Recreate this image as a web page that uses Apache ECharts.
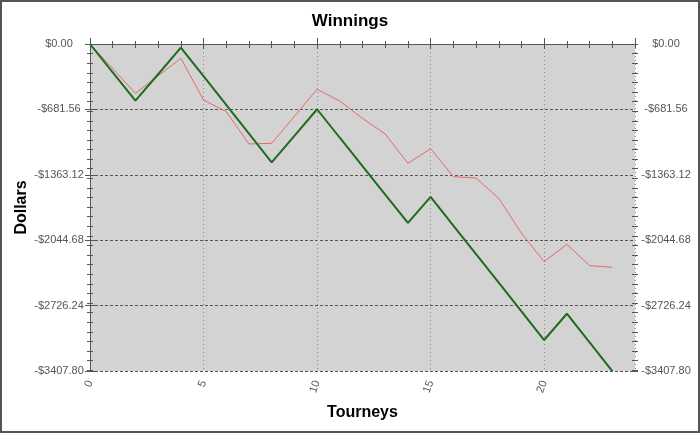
<!DOCTYPE html>
<html>
<head>
<meta charset="utf-8">
<script src="https://cdn.jsdelivr.net/npm/echarts@6/dist/echarts.min.js"></script>
<style>
html,body{margin:0;padding:0;background:#fff;}
#chart{width:700px;height:433px;}
</style>
</head>
<body>
<div id="chart"></div>
<script>
// Data
var tourneys = [0,1,2,3,4,5,6,7,8,9,10,11,12,13,14,15,16,17,18,19,20,21,22,23];
var greenValues = [0,-296,-591,-315,-38,-336,-635,-934,-1233,-957,-680,-977,-1273,-1569,-1865,-1594,-1892,-2190,-2488,-2786,-3085,-2811,-3109,-3408];
var redValues = [0,-257,-514,-332,-149,-584,-705,-1042,-1035,-754,-472,-594,-775,-938,-1243,-1091,-1383,-1396,-1608,-1973,-2268,-2088,-2310,-2327];
var yMin = -3407.80;
var yMax = 0;
var yStep = 681.56;
var xMin = 0;
var xMax = 24;
var xStep = 5;
var minorYStep = 100;

function fmtDollar(v){
  if (Math.abs(v) < 0.005) return '$0.00';
  return (v < 0 ? '-' : '') + '$' + Math.abs(v).toFixed(2);
}
function pairs(xs, ys){ return xs.map(function(x,i){ return [x, ys[i]]; }); }

var axisColor = '#555';
var labelStyle = {color:'#555', fontSize:11, fontFamily:'Arial, Liberation Sans, sans-serif'};
var nameStyle = {color:'#000', fontSize:16, fontWeight:'bold', fontFamily:'Arial, Liberation Sans, sans-serif'};

function tickX(pos, inside, len, interval){
  return {type:'value', position:pos, min:xMin, max:xMax, interval:interval,
    axisLine:{show:false}, axisLabel:{show:false}, splitLine:{show:false},
    axisTick:{show:true, inside:inside, length:len, lineStyle:{color:axisColor}}};
}
function tickY(pos, inside, len){
  return {type:'value', position:pos, min:0, max:-yMin, inverse:true, interval:minorYStep,
    axisLine:{show:false}, axisLabel:{show:false}, splitLine:{show:false},
    axisTick:{show:true, inside:inside, length:len, lineStyle:{color:axisColor}}};
}
function tickYMajor(pos, inside, len){
  return {type:'value', position:pos, min:yMin, max:yMax, interval:yStep,
    axisLine:{show:false}, axisLabel:{show:false}, splitLine:{show:false},
    axisTick:{show:true, inside:inside, length:len, lineStyle:{color:axisColor}}};
}

var chart = echarts.init(document.getElementById('chart'), null, {renderer:'canvas'});
chart.setOption({
  backgroundColor:'#fff',
  animation:false,
  title:{text:'Winnings', left:'center', top:8,
    textStyle:{color:'#000', fontSize:17, fontWeight:'bold', fontFamily:'Arial, Liberation Sans, sans-serif'}},
  graphic:[{type:'rect', shape:{x:1, y:1, width:698, height:431}, style:{fill:'none', stroke:'#555', lineWidth:2}, silent:true, z:100}],
  grid:{left:90, right:65, top:44, bottom:62, show:true, backgroundColor:'#d3d3d3', borderWidth:0},
  xAxis:[
    {type:'value', position:'bottom', min:xMin, max:xMax, interval:xStep,
      name:'Tourneys', nameLocation:'middle', nameGap:34, nameTextStyle:nameStyle,
      axisLine:{show:true, lineStyle:{color:axisColor, width:1}},
      axisTick:{show:true, inside:false, length:5, lineStyle:{color:axisColor}},
      axisLabel:Object.assign({rotate:70, margin:10, showMaxLabel:false}, labelStyle),
      splitLine:{show:true, lineStyle:{color:'#888', type:[1,3], width:1}}},
    tickX('bottom', true, 6, xStep),
    tickX('bottom', true, 3, 1),
    tickX('bottom', false, 2, 1),
    {type:'value', position:'top', min:xMin, max:xMax, interval:1,
      axisLine:{show:true, lineStyle:{color:axisColor, width:1}},
      axisLabel:{show:false}, splitLine:{show:false},
      axisTick:{show:true, inside:true, length:4, lineStyle:{color:axisColor}}}
  ],
  yAxis:[
    {type:'value', position:'left', min:yMin, max:yMax, interval:yStep,
      name:'Dollars', nameLocation:'middle', nameGap:60, nameRotate:90, nameMoveOverlap:false, nameTextStyle:nameStyle,
      axisLine:{show:true, lineStyle:{color:axisColor, width:1}},
      axisTick:{show:true, inside:false, length:5, lineStyle:{color:axisColor}},
      axisLabel:Object.assign({formatter:fmtDollar, align:'center', margin:31}, labelStyle),
      splitLine:{show:true, lineStyle:{color:'#555', type:[3,2], width:1}}},
    {type:'value', position:'right', min:yMin, max:yMax, interval:yStep,
      axisLine:{show:true, lineStyle:{color:axisColor, width:1}},
      axisTick:{show:true, inside:false, length:5, lineStyle:{color:axisColor}},
      axisLabel:Object.assign({formatter:fmtDollar, align:'center', margin:31}, labelStyle),
      splitLine:{show:false}},
    tickYMajor('left', true, 3),
    tickYMajor('right', true, 3),
    tickY('left', true, 3),
    tickY('left', false, 3),
    tickY('right', true, 3),
    tickY('right', false, 3)
  ],
  series:[
    {type:'line', name:'Red', data:pairs(tourneys, redValues), xAxisIndex:0, yAxisIndex:0,
      showSymbol:false, symbol:'none', lineStyle:{color:'#e36a6a', width:1}, z:3},
    {type:'line', name:'Green', data:pairs(tourneys, greenValues), xAxisIndex:0, yAxisIndex:0,
      showSymbol:false, symbol:'none', lineStyle:{color:'#1f6b1f', width:2}, z:4}
  ]
});
</script>
</body>
</html>
